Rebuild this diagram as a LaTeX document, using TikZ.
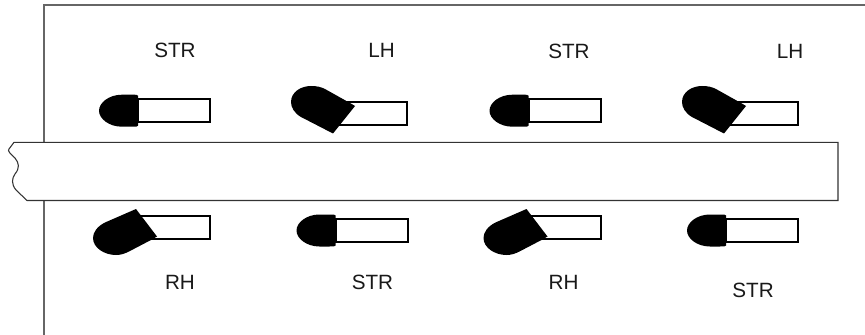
\documentclass[tikz,border=0pt]{standalone}
\usepackage{fontspec}
\setmainfont{Liberation Sans}
\tikzset{
    lbl/.style = {font=\fontsize{15.5}{18}\selectfont, inner sep=0pt, text=black!90},
    shank/.style = {draw, line width=1.5pt, fill=white},
    rule/.style = {draw=black!60, line width=1pt},
    bar/.style = {draw=black!80, line width=0.8pt, fill=white},
    pics/strtool/.style = {code = {
        \draw[shank] (-72,-11.5) rectangle (0,11.5);
        \fill (-72,-15) .. controls (-72,-16) and (-74,-16) .. (-78,-16) -- (-88,-16)
            .. controls (-101,-16) and (-111,-8) .. (-111,0)
            .. controls (-111,8) and (-101,16) .. (-88,16) -- (-78,16)
            .. controls (-74,16) and (-72,16) .. (-72,15) -- cycle;
    }},
    pics/lhtool/.style = {code = {
        \draw[shank] (-72,-11.5) rectangle (0,11.5);
        \fill (-52,-8) -- (-74,19.5) -- (-106,3) .. controls (-113,-1) and (-116,-7) .. (-116,-12)
            .. controls (-116,-22) and (-106,-28) .. (-96,-28)
            .. controls (-90,-28) and (-86,-27) .. (-82,-25) -- (-57,-11) -- cycle;
    }},
    pics/rhtool/.style = {code = {
        \draw[shank] (-72,-11.5) rectangle (0,11.5);
        \fill (-53,9) -- (-74,-18.5) -- (-105,-5) .. controls (-113,-1) and (-117,5) .. (-117,10.5)
            .. controls (-117,20) and (-106,27.5) .. (-94,27.5)
            .. controls (-89,27.5) and (-85,26) .. (-81,24) -- (-59,12.5) -- cycle;
    }}
}

\begin{document}
\begin{tikzpicture}[x=0.75pt, y=-0.75pt]
    \useasboundingbox (0,0) rectangle (865,335);
    % frame
    \coordinate (c1) at (865,5);
    \coordinate (c2) at (44,5);
    \coordinate (c3) at (44,335);
    \draw[rule] (c1) -- (c2) -- (c3);

    % tools
    \pic at (210,110.7) {strtool};
    \pic at (407,114) {lhtool};
    \pic at (600.5,110.7) {strtool};
    \pic at (798,114) {lhtool};
    \pic at (210,227.5) {rhtool};
    \pic at (407.5,230.5) {strtool};
    \pic at (600.5,227.5) {rhtool};
    \pic at (798,230.5) {strtool};

    % bar
    \draw[bar] (14,142.3) -- (838,142.3) -- (838,200.5) -- (27,200.5) -- (16,190)
        .. controls (11,184) and (12,178) .. (15,174)
        .. controls (20,168) and (19,163) .. (15,158)
        .. controls (11,154) and (7,151) .. (9,149) -- cycle;

    % labels
    \node[lbl] (t1) at (175,50) {STR};
    \node[lbl] (t2) at (381.5,50) {LH};
    \node[lbl] (t3) at (569,51) {STR};
    \node[lbl] (t4) at (790,51) {LH};
    \node[lbl] (b1) at (180,282) {RH};
    \node[lbl] (b2) at (372.5,282) {STR};
    \node[lbl] (b3) at (563.5,282) {RH};
    \node[lbl] (b4) at (753,290.5) {STR};
\end{tikzpicture}
\end{document}
